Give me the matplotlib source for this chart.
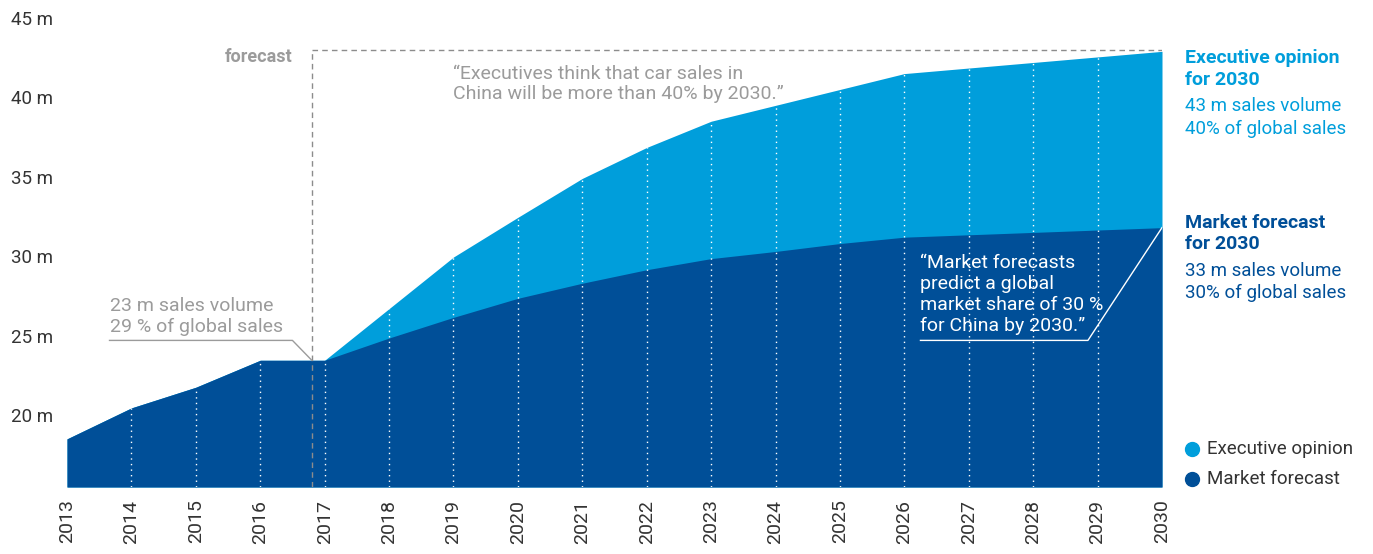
import matplotlib.pyplot as plt
import numpy as np

plt.rcParams['font.family'] = ['Roboto', 'DejaVu Sans']

# values (million units)
years = list(range(2013, 2031))
market = [18.5, 20.45, 21.75, 23.45, 23.45, 24.85, 26.15, 27.35, 28.3, 29.15,
          29.85, 30.3, 30.8, 31.2, 31.35, 31.5, 31.65, 31.8]
executive = [18.5, 20.45, 21.75, 23.45, 23.45, 26.7, 29.95, 32.45, 34.9, 36.85,
             38.5, 39.5, 40.5, 41.5, 41.85, 42.2, 42.55, 42.9]
y_ticks = [20, 25, 30, 35, 40, 45]
forecast_start = 2016.8
legend_labels = ['Executive opinion', 'Market forecast']

DARK = '#004f98'
LIGHT = '#009edb'
GREY = '#9b9b9b'

W, H = 1373, 554
fig = plt.figure(figsize=(W / 100, H / 100), dpi=100)
ax = fig.add_axes([67 / W, 1 - 487 / H, (1162 - 67) / W, (487 - 18) / H])

ymin = 15.47
ax.fill_between(years, ymin, executive, color=LIGHT, lw=0)
ax.fill_between(years, ymin, market, color=DARK, lw=0)

# white dotted year lines
for yr, top in zip(years[1:-1], executive[1:-1]):
    ax.plot([yr, yr], [ymin, top], color='white', lw=1, ls=(0, (1, 3)))

# forecast frame
ax.plot([forecast_start, forecast_start], [ymin, 43.0], color='#8c8c8c', lw=1, ls=(0, (4, 3)))
ax.plot([forecast_start, 2030], [43.0, 43.0], color='#8c8c8c', lw=1, ls=(0, (4, 3)))
ax.text(forecast_start - 0.3, 42.55, 'forecast', color=GREY, fontsize=13, weight='bold',
        ha='right', va='center')

ax.set_xlim(2013, 2030)
ax.set_ylim(ymin, 45)
ax.set_xticks(years)
ax.set_xticklabels([str(y) for y in years], rotation=90, fontsize=14, color='#333333')
ax.set_yticks(y_ticks)
ax.set_yticklabels([f'{v} m' for v in y_ticks], fontsize=13.5, color='#333333', ha='left')
ax.tick_params(axis='y', length=0, pad=40)
ax.tick_params(axis='x', length=0, pad=9)
for s in ax.spines.values():
    s.set_visible(False)

# annotations
ax.text(2013.66, 24.97, '23 m sales volume\n29 % of global sales', color=GREY, fontsize=14,
        ha='left', va='bottom', linespacing=1.2)
ax.plot([2013.66, 2016.5, forecast_start], [24.7, 24.7, 23.45], color=GREY, lw=1)

ax.text(2019.0, 40.85, '\u201cExecutives think that car sales in\nChina will be more than 40% by 2030.\u201d',
        color=GREY, fontsize=14, ha='left', va='center', linespacing=1.2)

ax.text(2026.25, 27.6, '\u201cMarket forecasts\npredict a global\nmarket share of 30 %\nfor China by 2030.\u201d',
        color='white', fontsize=14, ha='left', va='center', linespacing=1.2)
ax.plot([2026.25, 2028.85, 2030], [24.7, 24.7, 31.8], color='white', lw=1)

# right hand notes
notes = [('Executive opinion', 58, LIGHT, 'bold'), ('for 2030', 80, LIGHT, 'bold'),
         ('43 m sales volume', 106, LIGHT, 'normal'), ('40% of global sales', 129, LIGHT, 'normal'),
         ('Market forecast', 223, DARK, 'bold'), ('for 2030', 244, DARK, 'bold'),
         ('33 m sales volume', 271, DARK, 'normal'), ('30% of global sales', 293, DARK, 'normal')]
for txt, py, col, wt in notes:
    fig.text(1185 / W, 1 - py / H, txt, color=col, fontsize=14 if wt == 'bold' else 13.5,
             weight=wt, va='center')

# legend
for i, (lab, col) in enumerate(zip(legend_labels, [LIGHT, DARK])):
    yy = 1 - (449 + 30 * i) / H
    fig.lines.append(plt.Line2D([1192 / W], [yy], marker='o', ms=10, color=col,
                                transform=fig.transFigure))
    fig.text(1207 / W, yy, lab, color='#333333', fontsize=13.5, va='center')

fig.savefig('out.png', dpi=100)
